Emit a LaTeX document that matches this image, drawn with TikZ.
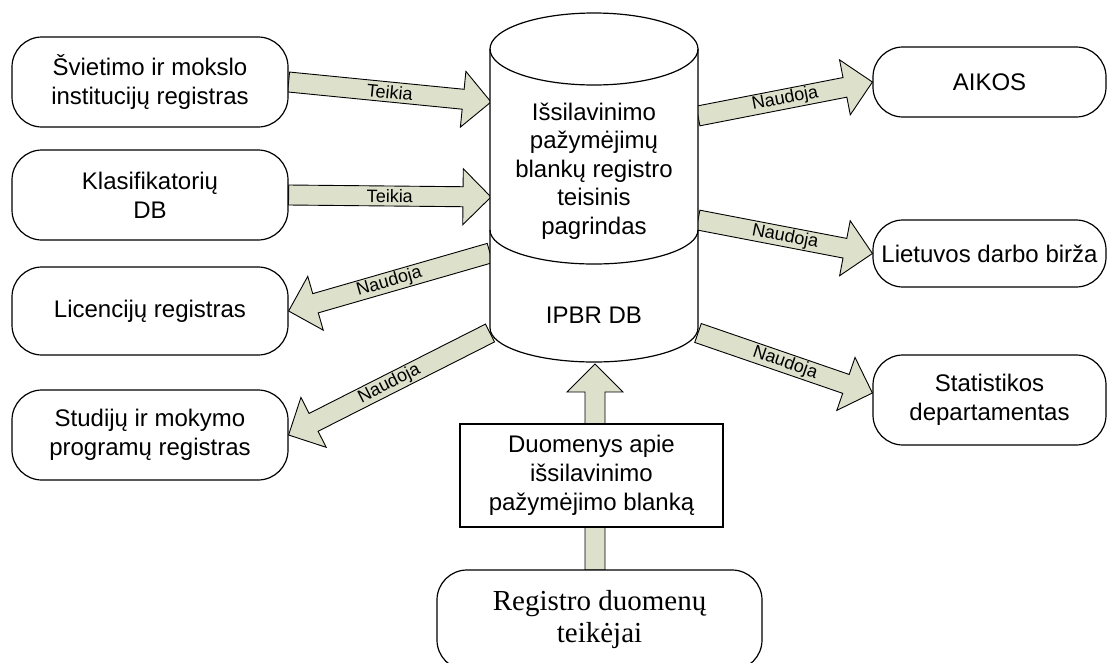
\documentclass[tikz,border=0pt]{standalone}
\usepackage{fontspec}
\setmainfont{Liberation Sans}
\newfontfamily\serifx{Liberation Serif}
\usetikzlibrary{calc,backgrounds}
\definecolor{arrfill}{RGB}{221,224,203}
\tikzset{
  rbox/.style={draw, line width=1.2pt, fill=white, rounded corners=30pt, align=center,
    font=\fontsize{24}{29}\selectfont, inner sep=0pt},
  sbox/.style={draw, line width=1.2pt, fill=white, align=center,
    font=\fontsize{24}{29}\selectfont, inner sep=0pt},
  txt/.style={align=center, font=\fontsize{24}{28.5}\selectfont, inner sep=0pt},
  blk/.style={draw, line width=0.9pt, fill=arrfill, line join=miter},
  lbl/.style={font=\fontsize{18}{20}\selectfont, inner sep=0pt},
  cyl/.style={draw, line width=1.2pt}
}
\newcommand\blockarr[2]{%
  \coordinate (hb) at ($(#2)!28pt!(#1)$);
  \draw[blk] ($(#1)!10pt!90:(#2)$) -- ($(hb)!10pt!90:(#2)$) -- ($(hb)!28pt!90:(#2)$) -- (#2)
    -- ($(hb)!28pt!-90:(#2)$) -- ($(hb)!10pt!-90:(#2)$) -- ($(#1)!10pt!-90:(#2)$) -- cycle;
}
\newcommand\arrlabel[3]{%
  \path (#1) -- (#2) node[midway, sloped, lbl] {#3};
}
\begin{document}
\begin{tikzpicture}[x=1pt,y=-1pt]
\clip (0,0) rectangle (1108,662);

% cylinder
\draw[cyl, fill=white] (490,49) -- (490,328)
  arc[start angle=180, end angle=360, x radius=104pt, y radius=34pt]
  -- (698,49) arc[start angle=0, end angle=180, x radius=104pt, y radius=36pt] -- cycle;
\draw[cyl] (490,49) arc[start angle=180, end angle=360, x radius=104pt, y radius=36pt];
\draw[cyl] (490,230) arc[start angle=180, end angle=360, x radius=104pt, y radius=34pt];
\node[txt] (cyltxt) at (594,171) {Išsilavinimo\\pažymėjimų\\blankų registro\\teisinis\\pagrindas};
\node[txt] (ipbr) at (594,315) {IPBR DB};
\coordinate (cw1) at (491,102);
\coordinate (cw2) at (491,197);
\coordinate (cw3) at (490,253);
\coordinate (cw4) at (490,333);
\coordinate (ce5) at (698,116);
\coordinate (ce6) at (698,220);
\coordinate (ce7) at (698,333);
\coordinate (cbot) at (595,364);

% left boxes
\node[rbox, minimum width=276pt, minimum height=90pt] (svi) at (150,82) {Švietimo ir mokslo\\institucijų registras};
\node[rbox, minimum width=276pt, minimum height=90pt] (kla) at (150,195) {Klasifikatorių\\DB};
\node[rbox, minimum width=276pt, minimum height=88pt] (lic) at (150,311) {Licencijų registras};
\node[rbox, minimum width=276pt, minimum height=90pt] (stu) at (150,435) {Studijų ir mokymo\\programų registras};

% right boxes
\node[rbox, minimum width=233pt, minimum height=70pt] (aik) at (989.5,82) {AIKOS};
\node[rbox, minimum width=233pt, minimum height=67pt] (ldb) at (989.5,253.5) {Lietuvos darbo birža};
\node[rbox, minimum width=233pt, minimum height=90pt] (sta) at (989.5,400) {Statistikos\\departamentas};
\coordinate (t7) at ([yshift=7pt]sta.west);

% bottom
\node[sbox, minimum width=263pt, minimum height=103pt] (duo) at (591.5,475.5) {Duomenys apie\\išsilavinimo\\pažymėjimo blanką};
\node[rbox, minimum width=325pt, minimum height=100pt, font=\serifx\fontsize{29}{32}\selectfont] (reg) at (599.5,620) {Registro duomenų\\teikėjai};
\coordinate (regtop) at (595,570);

\begin{scope}[on background layer]
  \blockarr{svi.east}{cw1}
  \blockarr{kla.east}{cw2}
  \blockarr{cw3}{lic.east}
  \blockarr{cw4}{stu.east}
  \blockarr{ce5}{aik.west}
  \blockarr{ce6}{ldb.west}
  \blockarr{ce7}{t7}
  \blockarr{regtop}{cbot}
\end{scope}
\arrlabel{svi.east}{cw1}{Teikia}
\arrlabel{kla.east}{cw2}{Teikia}
\arrlabel{cw3}{lic.east}{Naudoja}
\arrlabel{cw4}{stu.east}{Naudoja}
\arrlabel{ce5}{aik.west}{Naudoja}
\arrlabel{ce6}{ldb.west}{Naudoja}
\arrlabel{ce7}{t7}{Naudoja}
\end{tikzpicture}
\end{document}
